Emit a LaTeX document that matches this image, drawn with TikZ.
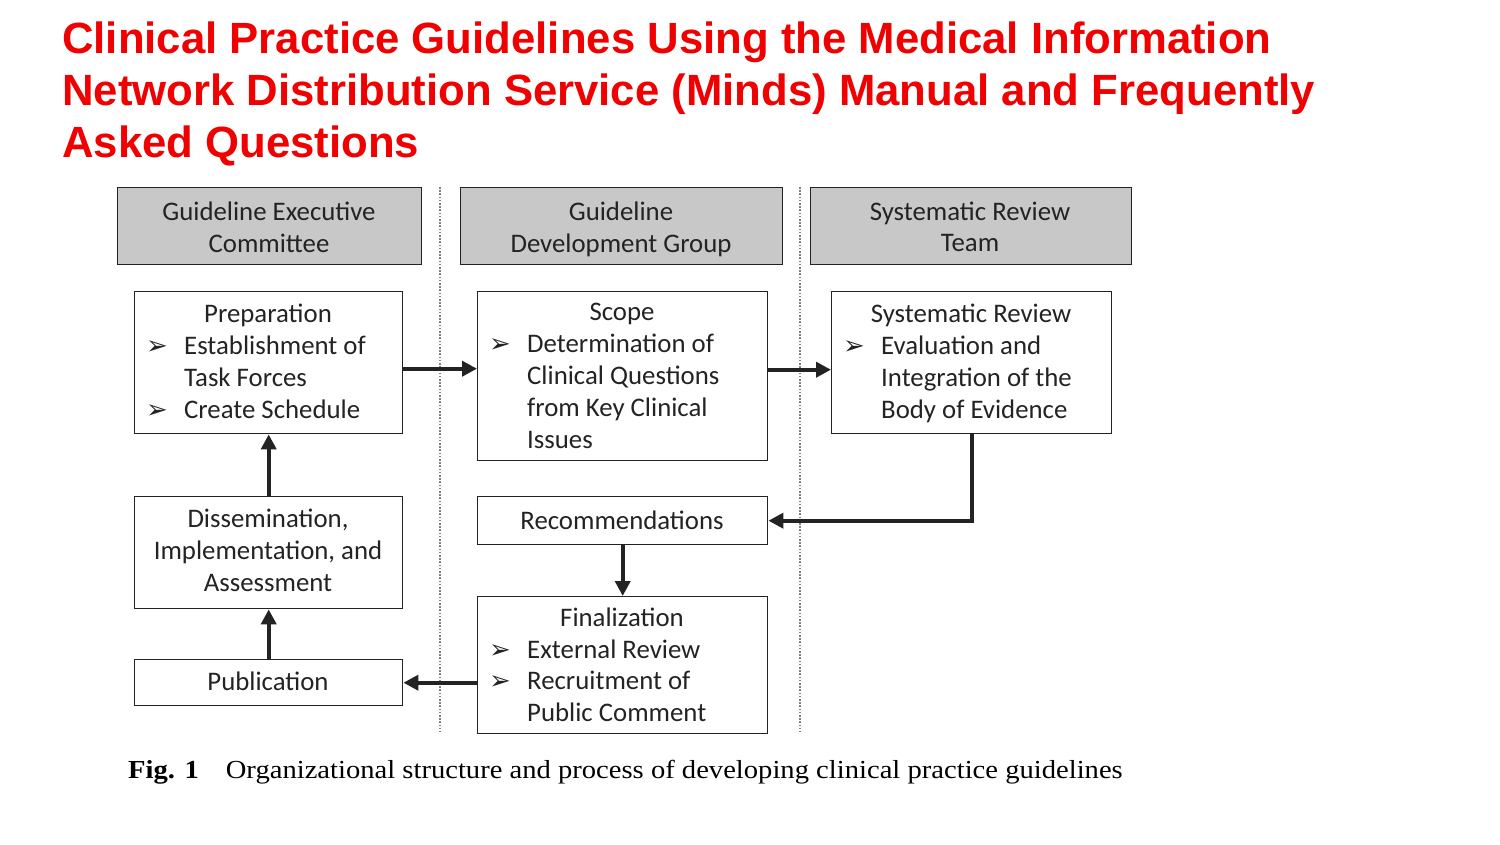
\documentclass[tikz,border=0pt]{standalone}
\usepackage{fontspec}
\setmainfont{Carlito}
\newfontfamily\titlefont{Liberation Sans}
\newfontfamily\capfont{Liberation Serif}
\newfontfamily\symfont{DejaVu Sans}
\usetikzlibrary{arrows.meta}
\definecolor{titlered}{RGB}{240,0,0}
\definecolor{hdrgray}{RGB}{200,200,200}
\definecolor{ink}{RGB}{35,35,35}
\tikzset{
  box/.style={draw=ink, line width=1.4pt, anchor=north west, inner sep=0pt},
  hdr/.style={box, fill=hdrgray},
  txt/.style={inner sep=0pt, text=ink, font=\fontsize{26.8}{32}\selectfont},
  bul/.style={inner sep=0pt, text=ink, font=\symfont\fontsize{26}{32}\selectfont, anchor=base west},
  arr/.style={draw=ink, line width=4.3pt, -{Triangle[length=15pt,width=15pt]}},
  sep/.style={draw=gray, line width=1.1pt, dash pattern=on 1.6pt off 1.6pt},
  ttl/.style={inner sep=0pt, anchor=base west, text=titlered, font=\titlefont\bfseries\fontsize{43.7}{52}\selectfont},
}
\begin{document}
\begin{tikzpicture}[x=1pt,y=-1pt]
\useasboundingbox (0,0) rectangle (1500,844);
% title
\node[ttl] (ti1) at (62,53) {Clinical Practice Guidelines Using the Medical Information};
\node[ttl] (ti2) at (62,105) {Network Distribution Service (Minds) Manual and Frequently};
\node[ttl] (ti3) at (62,157) {Asked Questions};
% separators
\coordinate (s1a) at (440,187); \coordinate (s1b) at (440,732);
\coordinate (s2a) at (800,187); \coordinate (s2b) at (800,732);
\draw[sep] (s1a) -- (s1b);
\draw[sep] (s2a) -- (s2b);
% headers
\node[hdr, minimum width=304, minimum height=77] (h1) at (117,187) {};
\node[hdr, minimum width=322, minimum height=77] (h2) at (460,187) {};
\node[hdr, minimum width=321, minimum height=77] (h3) at (810,187) {};
\node[txt, anchor=base] (h1a) at (269,220) {Guideline Executive};
\node[txt, anchor=base] (h1b) at (269,252) {Committee};
\node[txt, anchor=base] (h2a) at (621,220) {Guideline};
\node[txt, anchor=base] (h2b) at (621,252) {Development Group};
\node[txt, anchor=base] (h3a) at (970,220) {Systematic Review};
\node[txt, anchor=base] (h3b) at (970,251) {Team};
% boxes
\node[box, minimum width=268, minimum height=142] (prep) at (134,291) {};
\node[box, minimum width=290, minimum height=169] (scope) at (477,291) {};
\node[box, minimum width=280, minimum height=142] (sr) at (831,291) {};
\node[box, minimum width=268, minimum height=112] (dis) at (134,496) {};
\node[box, minimum width=290, minimum height=48] (rec) at (477,496) {};
\node[box, minimum width=268, minimum height=46] (pub) at (134,659) {};
\node[box, minimum width=290, minimum height=137] (fin) at (477,596) {};
% preparation text
\node[txt, anchor=base] (p0) at (268,322) {Preparation};
\node[bul] (pb1) at (146,354) {➢};
\node[txt, anchor=base west] (p1) at (184,354) {Establishment of};
\node[txt, anchor=base west] (p2) at (184,386) {Task Forces};
\node[bul] (pb2) at (146,418) {➢};
\node[txt, anchor=base west] (p3) at (184,418) {Create Schedule};
% scope text
\node[txt, anchor=base] (c0) at (622,320) {Scope};
\node[bul] (cb1) at (489,352) {➢};
\node[txt, anchor=base west] (c1) at (527,352) {Determination of};
\node[txt, anchor=base west] (c2) at (527,384) {Clinical Questions};
\node[txt, anchor=base west] (c3) at (527,416) {from Key Clinical};
\node[txt, anchor=base west] (c4) at (527,448) {Issues};
% systematic review text
\node[txt, anchor=base] (r0) at (971,322) {Systematic Review};
\node[bul] (rb1) at (843,354) {➢};
\node[txt, anchor=base west] (r1) at (881,354) {Evaluation and};
\node[txt, anchor=base west] (r2) at (881,386) {Integration of the};
\node[txt, anchor=base west] (r3) at (881,418) {Body of Evidence};
% dissemination
\node[txt, anchor=base] (d1) at (268,527) {Dissemination,};
\node[txt, anchor=base] (d2) at (268,559) {Implementation, and};
\node[txt, anchor=base] (d3) at (268,591) {Assessment};
% recommendations
\node[txt, anchor=base] (m1) at (622,529) {Recommendations};
% publication
\node[txt, anchor=base] (u1) at (268,690) {Publication};
% finalization
\node[txt, anchor=base] (f0) at (622,626) {Finalization};
\node[bul] (fb1) at (489,658) {➢};
\node[txt, anchor=base west] (f1) at (527,658) {External Review};
\node[bul] (fb2) at (489,689) {➢};
\node[txt, anchor=base west] (f2) at (527,689) {Recruitment of};
\node[txt, anchor=base west] (f3) at (527,721) {Public Comment};
% arrows
\draw[arr] ([yshift=-6pt]prep.east) -- ([yshift=-6pt]prep.east -| scope.west);
\draw[arr] ([yshift=6.5pt]scope.east) -- ([yshift=6.5pt]scope.east -| sr.west);
\draw[arr] (sr.south) |- (rec.east);
\draw[arr] (rec.south) -- (fin.north);
\draw[arr] (fin.west |- pub.east) -- (pub.east);
\draw[arr] (pub.north) -- (dis.south);
\draw[arr] (dis.north) -- (prep.south);
% caption
\node[inner sep=0pt, anchor=base west, font=\capfont\fontsize{26}{30}\selectfont] (cap) at (128,778) {\scalebox{1.1}[1]{\textbf{Fig. 1}\hspace{24.5pt}Organizational structure and process of developing clinical practice guidelines}};
\end{tikzpicture}
\end{document}
